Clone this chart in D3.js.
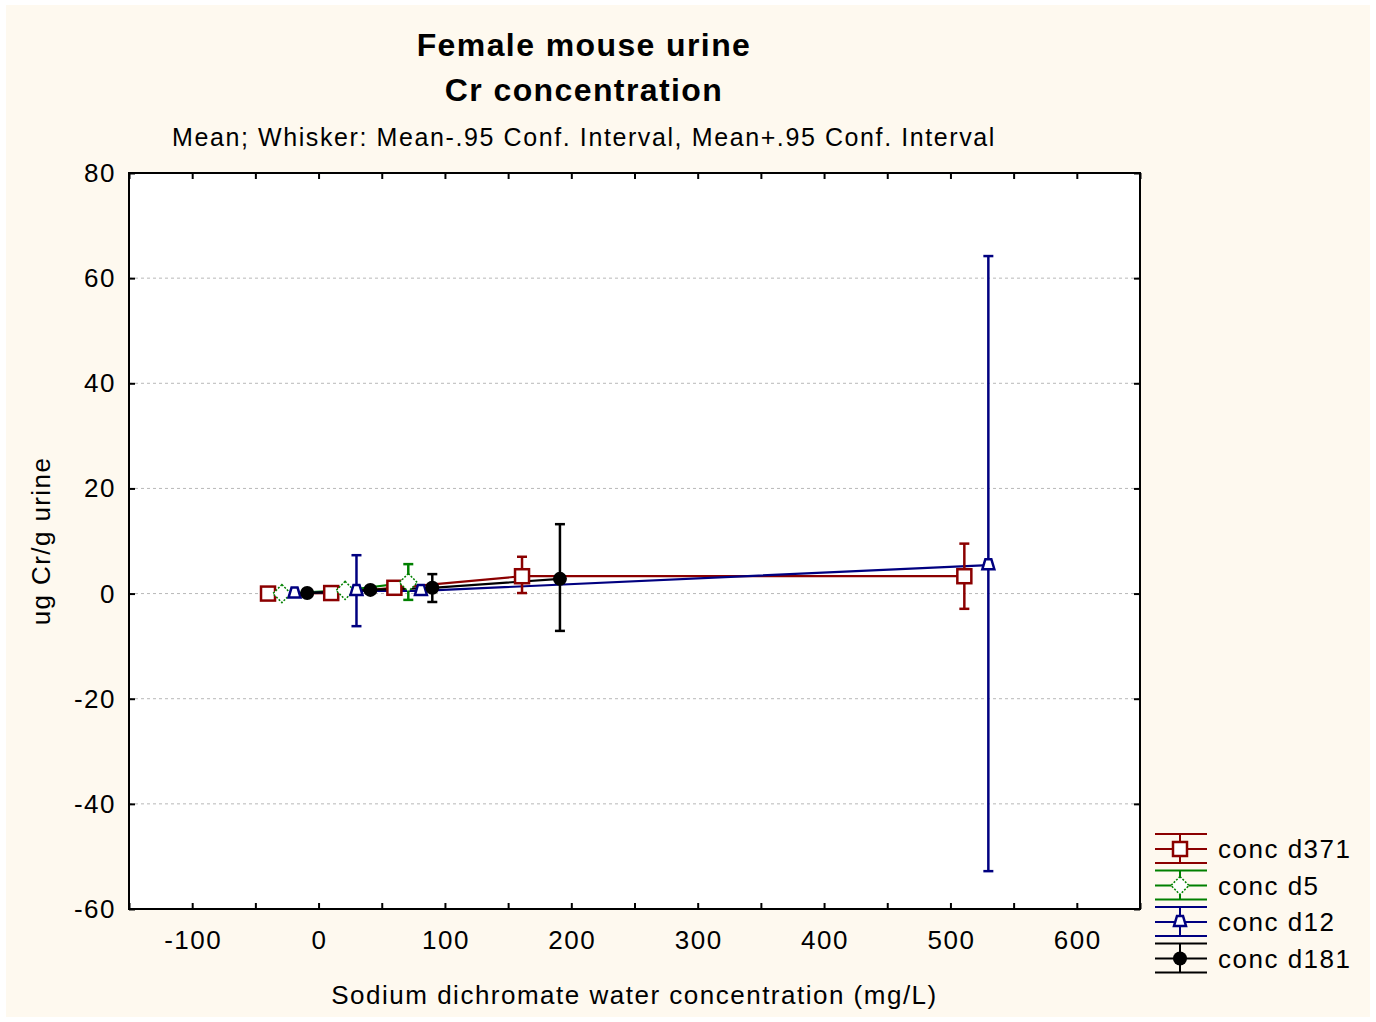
<!DOCTYPE html>
<html><head><meta charset="utf-8">
<script src="https://cdn.jsdelivr.net/npm/d3@7"></script>
<style>body{margin:0;background:#fff}</style>
</head><body>
<svg id="c" width="1376" height="1022"></svg>
<script>
// ---- data ----
const seriesNames = ["conc d371", "conc d5", "conc d12", "conc d181"];
const seriesColors = ["#8B0000", "#008000", "#000080", "#000000"];
const seriesMarkers = ["square", "diamond", "triangle", "circle"];
// x positions (jittered doses), means, lower and upper 95% CI
const d371X = [-40, 10, 60, 161, 511];
const d371Mean = [0.0, 0.1, 1.1, 3.3, 3.3];
const d371Lo = [0.0, 0.1, 1.1, 0.1, -2.9];
const d371Hi = [0.0, 0.1, 1.1, 7.0, 9.5];
const d5X = [-29, 21, 71];
const d5Mean = [0.0, 0.6, 2.1];
const d5Lo = [0.0, 0.6, -1.2];
const d5Hi = [0.0, 0.6, 5.6];
const d12X = [-19, 30, 81, 530];
const d12Mean = [0.0, 0.5, 0.5, 5.4];
const d12Lo = [0.0, -6.2, 0.5, -52.8];
const d12Hi = [0.0, 7.3, 0.5, 64.2];
const d181X = [-9, 41, 90, 191];
const d181Mean = [0.1, 0.7, 1.1, 2.8];
const d181Lo = [0.1, 0.7, -1.6, -7.1];
const d181Hi = [0.1, 0.7, 3.7, 13.2];
const xTickValues = [-100, 0, 100, 200, 300, 400, 500, 600];
const yTickValues = [-60, -40, -20, 0, 20, 40, 60, 80];
const titleLines = ["Female mouse urine", "Cr concentration"];
const subtitle = "Mean; Whisker: Mean-.95 Conf. Interval, Mean+.95 Conf. Interval";
const xLabel = "Sodium dichromate water concentration (mg/L)";
const yLabel = "ug Cr/g urine";

const series = [
  {x: d371X, m: d371Mean, lo: d371Lo, hi: d371Hi},
  {x: d5X, m: d5Mean, lo: d5Lo, hi: d5Hi},
  {x: d12X, m: d12Mean, lo: d12Lo, hi: d12Hi},
  {x: d181X, m: d181Mean, lo: d181Lo, hi: d181Hi}
].map((s, i) => ({...s, name: seriesNames[i], color: seriesColors[i], marker: seriesMarkers[i]}));

// ---- layout ----
const W = 1376, H = 1022;
const L = 129, R = 1140, T = 173, B = 909;
const font = "'Liberation Sans', Arial, sans-serif";
const svg = d3.select("#c");
svg.append("rect").attr("x", 0).attr("y", 0).attr("width", W).attr("height", H).attr("fill", "#ffffff");
svg.append("rect").attr("x", 6).attr("y", 5).attr("width", W - 12).attr("height", H - 10).attr("fill", "#FEF9EF");

const x = d3.scaleLinear().domain([-150, 650]).range([L, R]);
const y = d3.scaleLinear().domain([-60, 80]).range([B, T]);

svg.append("rect").attr("x", L).attr("y", T).attr("width", R - L).attr("height", B - T).attr("fill", "#fff");

// gridlines
svg.append("g").selectAll("line").data(yTickValues.filter(v => v > -60 && v < 80)).join("line")
  .attr("x1", L).attr("x2", R).attr("y1", d => y(d)).attr("y2", d => y(d))
  .attr("stroke", "#b8b8b8").attr("stroke-width", 1).attr("stroke-dasharray", "3,3");

// axes with inward ticks
const xTicksAll = d3.range(-150, 651, 50);
const gxB = svg.append("g").attr("transform", `translate(0,${B})`)
  .call(d3.axisTop(x).tickValues(xTicksAll).tickSize(6).tickFormat(""));
const gxT = svg.append("g").attr("transform", `translate(0,${T})`)
  .call(d3.axisBottom(x).tickValues(xTicksAll).tickSize(6).tickFormat(""));
const gyL = svg.append("g").attr("transform", `translate(${L},0)`)
  .call(d3.axisRight(y).tickValues(yTickValues).tickSize(6).tickFormat(""));
const gyR = svg.append("g").attr("transform", `translate(${R},0)`)
  .call(d3.axisLeft(y).tickValues(yTickValues).tickSize(6).tickFormat(""));
[gxB, gxT, gyL, gyR].forEach(g => {
  g.select(".domain").remove();
  g.selectAll(".tick line").attr("stroke", "#000").attr("stroke-width", 2);
});

// tick labels
svg.append("g").selectAll("text").data(xTickValues).join("text")
  .attr("x", d => x(d) + 1).attr("y", B + 40).attr("text-anchor", "middle").attr("letter-spacing", 1.5)
  .attr("font-family", font).attr("font-size", 26).text(d => d);
svg.append("g").selectAll("text").data(yTickValues).join("text")
  .attr("x", L - 13).attr("y", d => y(d) + 9).attr("text-anchor", "end").attr("letter-spacing", 1.5)
  .attr("font-family", font).attr("font-size", 26).text(d => d);

// plot frame
svg.append("rect").attr("x", L).attr("y", T).attr("width", R - L).attr("height", B - T)
  .attr("fill", "none").attr("stroke", "#000").attr("stroke-width", 2);

// titles
svg.append("g").selectAll("text").data(titleLines).join("text")
  .attr("x", 584).attr("y", (d, i) => 56 + i * 45).attr("text-anchor", "middle").attr("letter-spacing", 1.4)
  .attr("font-family", font).attr("font-weight", "bold").attr("font-size", 32).text(d => d);
svg.append("text").attr("x", 584).attr("y", 146).attr("text-anchor", "middle").attr("letter-spacing", 1.6)
  .attr("font-family", font).attr("font-size", 25).text(subtitle);
svg.append("text").attr("x", (L + R) / 2).attr("y", 1004).attr("text-anchor", "middle").attr("letter-spacing", 1.5)
  .attr("font-family", font).attr("font-size", 26).text(xLabel);
svg.append("text").attr("transform", `translate(50,${(T + B) / 2}) rotate(-90)`).attr("text-anchor", "middle")
  .attr("letter-spacing", 1.4).attr("font-family", font).attr("font-size", 26).text(yLabel);

// marker drawing
function drawMarker(g, type, color, cx, cy) {
  if (type === "square") {
    g.append("rect").attr("x", cx - 7).attr("y", cy - 7).attr("width", 14).attr("height", 14)
      .attr("fill", "#fff").attr("stroke", color).attr("stroke-width", 2.5);
  } else if (type === "diamond") {
    g.append("path").attr("d", `M${cx},${cy - 9}L${cx + 9},${cy}L${cx},${cy + 9}L${cx - 9},${cy}Z`)
      .attr("fill", "#fff").attr("stroke", color).attr("stroke-width", 1.5).attr("stroke-dasharray", "2,1.5");
  } else if (type === "triangle") {
    g.append("path").attr("d", `M${cx - 3},${cy - 6}L${cx + 3},${cy - 6}L${cx + 6},${cy + 4}L${cx - 6},${cy + 4}Z`)
      .attr("fill", "#fff").attr("stroke", color).attr("stroke-width", 2.5);
  } else {
    g.append("circle").attr("cx", cx).attr("cy", cy).attr("r", 7).attr("fill", color);
  }
}

const line = d3.line().x(d => x(d[0])).y(d => y(d[1]));
const plot = svg.append("g");
series.forEach(s => {
  const pts = s.x.map((v, i) => [v, s.m[i]]);
  plot.append("path").attr("d", line(pts)).attr("fill", "none").attr("stroke", s.color).attr("stroke-width", 2.2);
});
series.forEach(s => {
  const g = plot.append("g");
  s.x.forEach((v, i) => {
    const px = x(v);
    if (s.hi[i] - s.lo[i] > 0.5) {
      g.append("line").attr("x1", px).attr("x2", px).attr("y1", y(s.hi[i])).attr("y2", y(s.lo[i]))
        .attr("stroke", s.color).attr("stroke-width", 2.5);
      [s.hi[i], s.lo[i]].forEach(e => g.append("line").attr("x1", px - 5).attr("x2", px + 5)
        .attr("y1", y(e)).attr("y2", y(e)).attr("stroke", s.color).attr("stroke-width", 2.5));
    }
    drawMarker(g, s.marker, s.color, px, y(s.m[i]));
  });
});

// legend
const lg = svg.append("g");
series.forEach((s, i) => {
  const cy = 849 + i * 36.5;
  const g = lg.append("g");
  [-15, 0, 14].forEach(dy => g.append("line").attr("x1", 1155).attr("x2", 1207)
    .attr("y1", cy + dy).attr("y2", cy + dy).attr("stroke", s.color).attr("stroke-width", 2));
  g.append("line").attr("x1", 1180).attr("x2", 1180).attr("y1", cy - 15).attr("y2", cy + 14)
    .attr("stroke", s.color).attr("stroke-width", 2);
  drawMarker(g, s.marker, s.color, 1180, cy);
  g.append("text").attr("x", 1218).attr("y", cy + 9).attr("letter-spacing", 1.5)
    .attr("font-family", font).attr("font-size", 26).text(s.name);
});
</script>
</body></html>
